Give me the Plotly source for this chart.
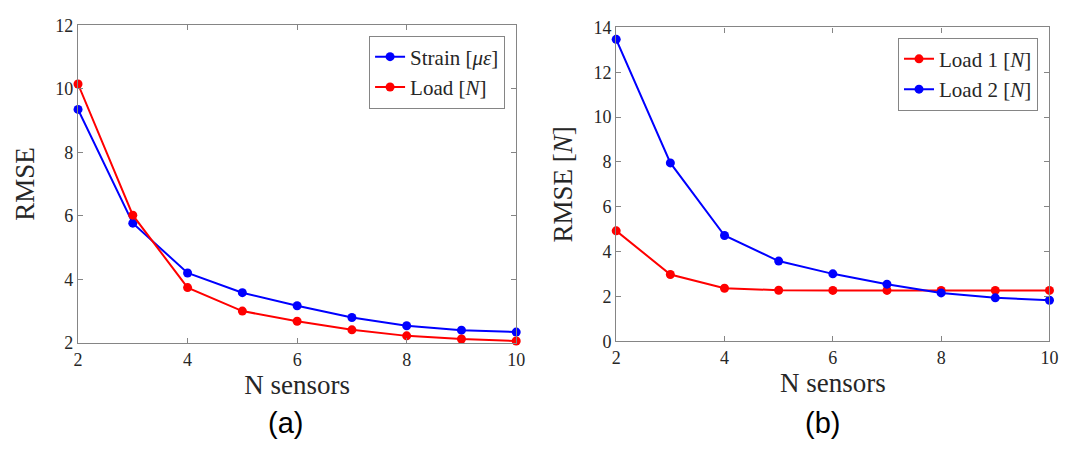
import plotly.graph_objects as go

n_sensors = [2, 3, 4, 5, 6, 7, 8, 9, 10]
strain_rmse = [9.35, 5.77, 4.20, 3.58, 3.17, 2.80, 2.54, 2.40, 2.34]
load_rmse_a = [10.15, 6.02, 3.74, 3.00, 2.68, 2.41, 2.22, 2.12, 2.06]
load1_rmse = [4.93, 2.98, 2.37, 2.28, 2.27, 2.27, 2.27, 2.27, 2.27]
load2_rmse = [13.47, 7.96, 4.72, 3.58, 3.01, 2.55, 2.16, 1.94, 1.83]

left_yticks = [2, 4, 6, 8, 10, 12]
right_yticks = [0, 2, 4, 6, 8, 10, 12, 14]
xticks = [2, 4, 6, 8, 10]

SERIF = "Liberation Serif"
AX_COLOR = "#858585"
TXT = "#262626"
BLUE = "#0000ff"
RED = "#ff0000"

fig = go.Figure()

def add(x, y, name, color, xa, ya, legend):
    fig.add_trace(go.Scatter(
        x=x, y=y, name=name, mode="lines+markers",
        line=dict(color=color, width=2),
        marker=dict(color=color, size=9),
        xaxis=xa, yaxis=ya, legend=legend, cliponaxis=False,
    ))

add(n_sensors, strain_rmse, "Strain [<i>με</i>]", BLUE, "x", "y", "legend")
add(n_sensors, load_rmse_a, "Load [<i>N</i>]", RED, "x", "y", "legend")
add(n_sensors, load1_rmse, "Load 1 [<i>N</i>]", RED, "x2", "y2", "legend2")
add(n_sensors, load2_rmse, "Load 2 [<i>N</i>]", BLUE, "x2", "y2", "legend2")

axis_common = dict(
    showline=True, linecolor=AX_COLOR, linewidth=1.3, mirror="ticks",
    ticks="inside", ticklen=5, tickcolor=AX_COLOR, tickwidth=1,
    showgrid=False, zeroline=False,
    tickfont=dict(family=SERIF, size=18, color=TXT),
)

fig.update_layout(
    width=1070, height=451,
    margin=dict(l=0, r=0, t=0, b=0),
    paper_bgcolor="white", plot_bgcolor="white",
    font=dict(family=SERIF, color=TXT),
    xaxis=dict(domain=[74 / 1070, 518 / 1070], range=[2, 10], tickvals=xticks,
               title=dict(text="N sensors", font=dict(family=SERIF, size=27, color=TXT), standoff=5),
               anchor="y", **axis_common),
    yaxis=dict(domain=[1 - 348.3 / 451, 1 - 16 / 451], range=[2, 12], tickvals=left_yticks,
               title=dict(text="RMSE", font=dict(family=SERIF, size=27, color=TXT), standoff=12),
               anchor="x", **axis_common),
    xaxis2=dict(domain=[619.3 / 1070, 1058.3 / 1070], range=[2, 10], tickvals=xticks,
                title=dict(text="N sensors", font=dict(family=SERIF, size=27, color=TXT), standoff=5),
                anchor="y2", **axis_common),
    yaxis2=dict(domain=[1 - 346.7 / 451, 1 - 18.3 / 451], range=[0, 14], tickvals=right_yticks,
                title=dict(text="RMSE [<i>N</i>]", font=dict(family=SERIF, size=27, color=TXT), standoff=12),
                anchor="x2", **axis_common),
    legend=dict(x=506.7 / 1070, y=1 - 26.7 / 451, xanchor="right", yanchor="top",
                bgcolor="white", bordercolor=AX_COLOR, borderwidth=1,
                font=dict(family=SERIF, size=21, color=TXT), tracegroupgap=0),
    legend2=dict(x=1046.7 / 1070, y=1 - 29 / 451, xanchor="right", yanchor="top",
                 bgcolor="white", bordercolor=AX_COLOR, borderwidth=1,
                 font=dict(family=SERIF, size=21, color=TXT), tracegroupgap=0),
    showlegend=True,
)

fig.add_annotation(text="(a)", x=284 / 1070, y=1 - 432 / 451, xref="paper", yref="paper",
                   showarrow=False, font=dict(family="Liberation Sans", size=29, color="black"),
                   xanchor="center", yanchor="middle")
fig.add_annotation(text="(b)", x=828 / 1070, y=1 - 432 / 451, xref="paper", yref="paper",
                   showarrow=False, font=dict(family="Liberation Sans", size=29, color="black"),
                   xanchor="center", yanchor="middle")

fig.write_html("out.html", config={"displayModeBar": False},
               post_script="document.body.style.margin='0';")
